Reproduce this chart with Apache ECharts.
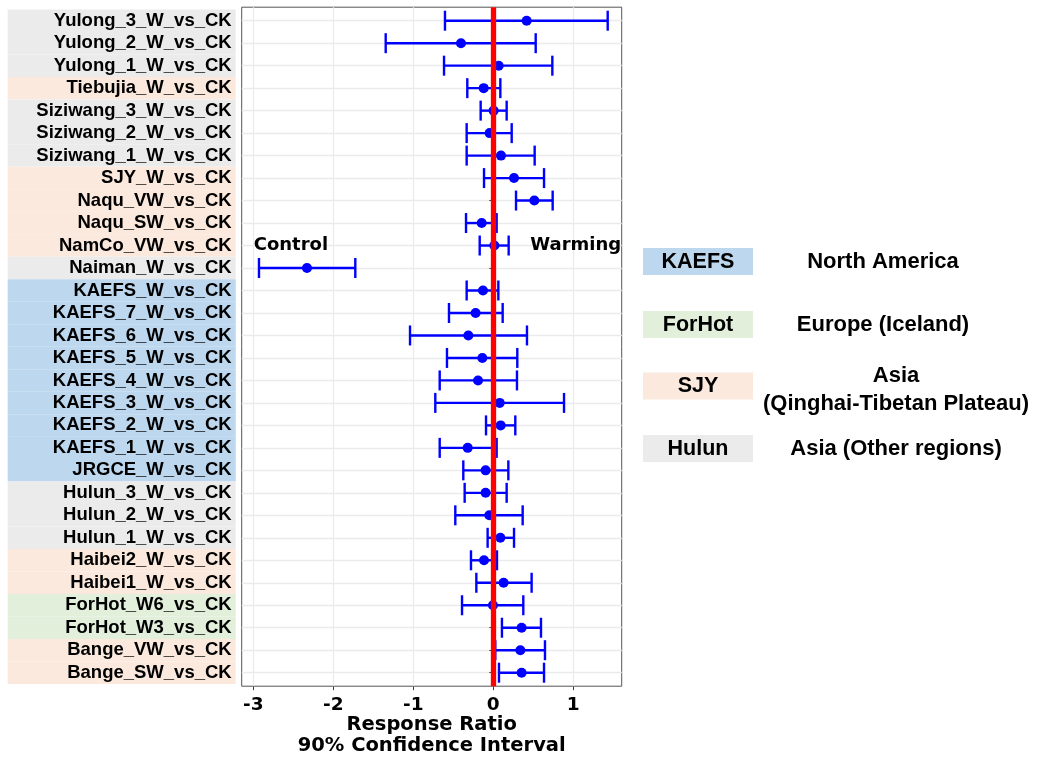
<!DOCTYPE html>
<html>
<head>
<meta charset="utf-8">
<script src="https://cdn.jsdelivr.net/npm/echarts@6/dist/echarts.min.js"></script>
<style>html,body{margin:0;padding:0;background:#fff}#c{width:1037px;height:757px}</style>
</head>
<body>
<div id="c"></div>
<script>
const categories = ['Yulong_3_W_vs_CK','Yulong_2_W_vs_CK','Yulong_1_W_vs_CK','Tiebujia_W_vs_CK','Siziwang_3_W_vs_CK','Siziwang_2_W_vs_CK','Siziwang_1_W_vs_CK','SJY_W_vs_CK','Naqu_VW_vs_CK','Naqu_SW_vs_CK','NamCo_VW_vs_CK','Naiman_W_vs_CK','KAEFS_W_vs_CK','KAEFS_7_W_vs_CK','KAEFS_6_W_vs_CK','KAEFS_5_W_vs_CK','KAEFS_4_W_vs_CK','KAEFS_3_W_vs_CK','KAEFS_2_W_vs_CK','KAEFS_1_W_vs_CK','JRGCE_W_vs_CK','Hulun_3_W_vs_CK','Hulun_2_W_vs_CK','Hulun_1_W_vs_CK','Haibei2_W_vs_CK','Haibei1_W_vs_CK','ForHot_W6_vs_CK','ForHot_W3_vs_CK','Bange_VW_vs_CK','Bange_SW_vs_CK'];
const estimate = [0.417,-0.404,0.067,-0.12,0.004,-0.046,0.096,0.259,0.513,-0.145,0.013,-2.329,-0.129,-0.221,-0.312,-0.137,-0.191,0.08,0.092,-0.32,-0.096,-0.096,-0.05,0.088,-0.116,0.129,-0.004,0.354,0.338,0.354];
const lower = [-0.604,-1.345,-0.616,-0.325,-0.158,-0.333,-0.333,-0.116,0.284,-0.341,-0.17,-2.929,-0.333,-0.554,-1.041,-0.579,-0.67,-0.725,-0.091,-0.67,-0.375,-0.358,-0.475,-0.071,-0.279,-0.212,-0.391,0.108,0.025,0.071];
const upper = [1.43,0.53,0.738,0.088,0.167,0.23,0.517,0.634,0.742,0.042,0.192,-1.725,0.063,0.117,0.421,0.3,0.296,0.884,0.275,0.042,0.188,0.167,0.367,0.259,0.046,0.479,0.375,0.596,0.646,0.634];
const groups = ['other','other','other','qtp','other','other','other','qtp','qtp','qtp','qtp','other','na','na','na','na','na','na','na','na','na','other','other','other','qtp','qtp','eu','eu','qtp','qtp'];
const xTicks = [-3,-2,-1,0,1];
const annotations = [{text:'Control', x:-2.53, y:'NamCo_VW_vs_CK'},{text:'Warming', x:1.03, y:'NamCo_VW_vs_CK'}];
const legendKeys = ['KAEFS','ForHot','SJY','Hulun'];
const legendRegions = ['North America','Europe (Iceland)','Asia\n(Qinghai-Tibetan Plateau)','Asia (Other regions)'];
const legendGroups = ['na','eu','qtp','other'];

const groupColors = {na:'#bdd7ee', eu:'#e2efda', qtp:'#fbe9de', other:'#ebebeb'};
const X_MIN = -3.145, X_MAX = 1.605;

const rich = {};
Object.keys(groupColors).forEach(g => {
  rich[g] = {backgroundColor: groupColors[g], width: 224, height: 22.5, align: 'right', padding: [0,4,0,0],
    fontFamily: 'Liberation Sans', fontWeight: 'bold', fontSize: 18.5, color: '#000'};
});

const chart = echarts.init(document.getElementById('c'), null, {renderer:'canvas'});

const legendGraphics = [];
const boxTops = [248, 311, 372.5, 435];
const textCx = [883, 883, 896, 896];
legendKeys.forEach((k, i) => {
  legendGraphics.push({type:'rect', left: 643, top: boxTops[i], shape:{width:110, height:27}, style:{fill: groupColors[legendGroups[i]]}});
  legendGraphics.push({type:'text', x: 698, y: boxTops[i] + 14, style:{text: k, fontFamily:'Liberation Sans', fontWeight:'bold', fontSize: 21.5, fill:'#000', align:'center', verticalAlign:'middle'}});
  legendGraphics.push({type:'text', x: textCx[i], y: boxTops[i] + 14 + (i===2 ? 3 : 0), style:{text: legendRegions[i], fontFamily:'Liberation Sans', fontWeight:'bold', fontSize: 22, lineHeight: 28, fill:'#000', align:'center', verticalAlign:'middle'}});
});

const option = {
  animation: false,
  backgroundColor: '#fff',
  grid: [
    {left: 241.7, right: 415.3, top: 20.7, bottom: 84.3, show: false, outerBoundsMode: 'none', containLabel: false},
    {left: 241.7, right: 415.3, top: 7.2, bottom: 70.8, show: true, borderColor: '#555', borderWidth: 1, backgroundColor: 'transparent', outerBoundsMode: 'none', containLabel: false}
  ],
  xAxis: [
    {gridIndex: 0, type: 'value', min: X_MIN, max: X_MAX, show: false},
    {gridIndex: 1, type: 'value', min: X_MIN, max: X_MAX,
      axisLine: {show: false},
      axisTick: {show: true, length: 4, lineStyle: {color: '#444'}, customValues: xTicks},
      axisLabel: {customValues: xTicks, fontFamily: 'DejaVu Sans', fontWeight: 'bold', fontSize: 18.5, color: '#000', margin: 9},
      splitLine: {show: true, lineStyle: {color: '#ebebeb', width: 1.3}},
      name: 'Response Ratio\n90% Confidence Interval', nameLocation: 'middle', nameGap: 28, nameMoveOverlap: false,
      nameTextStyle: {fontFamily: 'DejaVu Sans', fontWeight: 'bold', fontSize: 19.5, color: '#000', lineHeight: 21}
    }
  ],
  yAxis: [
    {gridIndex: 0, type: 'category', data: categories, inverse: true, boundaryGap: false,
      axisLine: {show: false},
      axisTick: {show: true, length: 4, lineStyle: {color: '#444'}},
      axisLabel: {margin: 6, interval: 0, formatter: (v, i) => '{' + groups[i] + '|' + v + '}', rich: rich},
      splitLine: {show: true, interval: 0, lineStyle: {color: '#ebebeb', width: 1.3}}
    },
    {gridIndex: 1, type: 'value', min: 0, max: 1, show: false}
  ],
  graphic: legendGraphics,
  series: [
    {
      type: 'custom', xAxisIndex: 0, yAxisIndex: 0, z: 2,
      data: categories.map((c, i) => [lower[i], upper[i], i]),
      renderItem: (params, api) => {
        const p1 = api.coord([api.value(0), api.value(2)]);
        const p2 = api.coord([api.value(1), api.value(2)]);
        const h = 10;
        const style = {stroke: '#0000ff', lineWidth: 2.4, fill: null};
        return {type: 'group', children: [
          {type: 'line', shape: {x1: p1[0], y1: p1[1], x2: p2[0], y2: p2[1]}, style},
          {type: 'line', shape: {x1: p1[0], y1: p1[1]-h, x2: p1[0], y2: p1[1]+h}, style},
          {type: 'line', shape: {x1: p2[0], y1: p2[1]-h, x2: p2[0], y2: p2[1]+h}, style}
        ]};
      },
      silent: true
    },
    {
      type: 'scatter', xAxisIndex: 1, yAxisIndex: 1, z: 3, data: [], silent: true,
      markLine: {silent: true, symbol: 'none', label: {show: false},
        lineStyle: {color: '#ff0000', width: 5.3, type: 'solid', opacity: 1},
        data: [{xAxis: 0}]}
    },
    {
      type: 'scatter', xAxisIndex: 0, yAxisIndex: 0, z: 4, symbol: 'circle', symbolSize: 10,
      itemStyle: {color: '#0000ff', opacity: 1}, silent: true,
      data: categories.map((c, i) => [estimate[i], c])
    },
    {
      type: 'scatter', xAxisIndex: 0, yAxisIndex: 0, z: 5, symbolSize: 0, silent: true,
      itemStyle: {opacity: 1},
      data: annotations.map(a => ({name: a.text, value: [a.x, a.y]})),
      label: {show: true, position: 'inside', formatter: p => p.name,
        fontFamily: 'DejaVu Sans', fontWeight: 'bold', fontSize: 18, color: '#000'}
    }
  ]
};
chart.setOption(option);
</script>
</body>
</html>
